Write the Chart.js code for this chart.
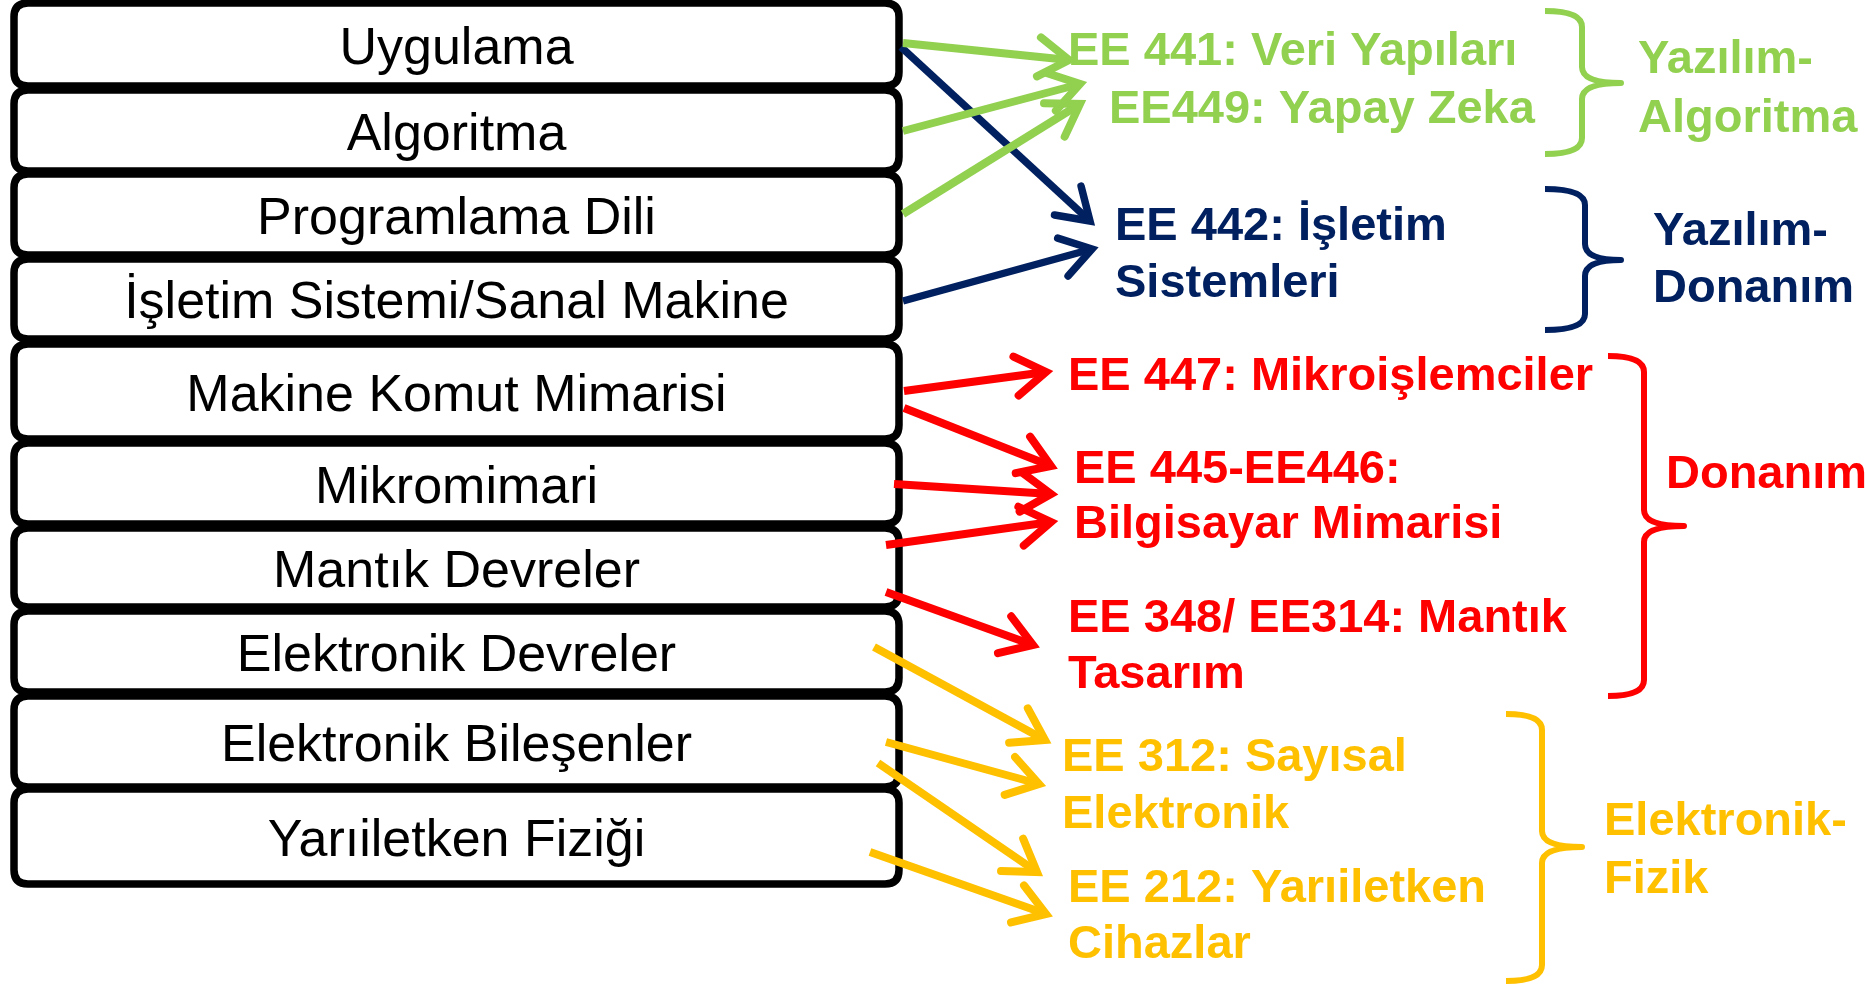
<!DOCTYPE html>
<html>
<head>
<meta charset="utf-8">
<script src="https://cdn.jsdelivr.net/npm/chart.js@4/dist/chart.umd.min.js"></script>
<style>
  html, body { margin: 0; padding: 0; background: #ffffff; }
  #wrap { width: 1875px; height: 985px; }
</style>
</head>
<body>
<div id="wrap"><canvas id="stackChart"></canvas></div>
<script>
// ------------------------------------------------------------
// Abstraction layers -> courses diagram, drawn on hidden linear
// scales (diagram units = 0..1875 x 0..985, y downwards)
// ------------------------------------------------------------

// left column: abstraction layers, top to bottom
const layerNames = [
  "Uygulama",
  "Algoritma",
  "Programlama Dili",
  "İşletim Sistemi/Sanal Makine",
  "Makine Komut Mimarisi",
  "Mikromimari",
  "Mantık Devreler",
  "Elektronik Devreler",
  "Elektronik Bileşenler",
  "Yarıiletken Fiziği",
];
const layerTop = [3, 90, 174, 259, 344, 443, 528, 611, 696, 789];
const layerBottom = [86, 171, 255, 339, 439, 524, 607, 692, 787, 884];
const layerLeft = 14;
const layerRight = 899;

// course groups
const groupKeys = ["green", "navy", "red", "gold"];
const groupTitles = [
  ["Yazılım-", "Algoritma"],
  ["Yazılım-", "Donanım"],
  ["Donanım"],
  ["Elektronik-", "Fizik"],
];
const groupTitleX = [1638, 1653, 1666, 1604];
const groupTitleY = [[73, 132], [245, 302], [488], [835, 893]];

// braces: tip x, spine x, point x, top y, middle y, bottom y
const braceTipX = [1545, 1545, 1608, 1506];
const braceSpineX = [1582, 1585, 1644, 1542];
const bracePointX = [1621, 1621, 1684, 1582];
const braceTop = [11, 189, 356, 714];
const braceMid = [83, 260, 526, 847];
const braceBottom = [154, 330, 696, 981];

// course labels (one entry per text line)
const courseLines = [
  "EE 441: Veri Yapıları", "EE449: Yapay Zeka",
  "EE 442: İşletim", "Sistemleri",
  "EE 447: Mikroişlemciler", "EE 445-EE446:", "Bilgisayar Mimarisi",
  "EE 348/ EE314: Mantık", "Tasarım",
  "EE 312: Sayısal", "Elektronik", "EE 212: Yarıiletken", "Cihazlar",
];
const courseGroup = [0, 0, 1, 1, 2, 2, 2, 2, 2, 3, 3, 3, 3];
const courseX = [1068, 1109, 1115, 1115, 1068, 1074, 1074, 1068, 1068, 1062, 1062, 1068, 1068];
const courseY = [65, 123, 240, 297, 390, 483, 538, 632, 688, 771, 828, 902, 958];

// arrows: layer -> course
const arrowFromX = [903, 903, 903, 901, 903, 904, 904, 894, 886, 886, 874, 886, 878, 870];
const arrowFromY = [43, 131, 214, 47, 301, 391, 408, 484, 545, 592, 647, 742, 763, 852];
const arrowToX = [1069, 1080, 1080, 1090, 1092, 1046, 1051, 1051, 1051, 1033, 1045, 1039, 1037, 1046];
const arrowToY = [60, 84, 104, 221, 249, 372, 466, 494, 522, 645, 740, 784, 872, 914];
const arrowGroup = [0, 0, 0, 1, 1, 2, 2, 2, 2, 2, 3, 3, 3, 3];

const COLORS = {
  green: "#92D050",
  navy: "#002060",
  red: "#FF0000",
  gold: "#FFC000",
  ink: "#000000",
};
const LINE_WIDTH = { green: 8, navy: 7.5, red: 8, gold: 8 };
const FONT_FAMILY = '"Liberation Sans", Arial, Helvetica, sans-serif';

const groupColor = (g) => COLORS[groupKeys[g]];

const buildArrowDatasets = () =>
  arrowFromX.map((x0, i) => {
    const key = groupKeys[arrowGroup[i]];
    return {
      data: [
        { x: x0, y: arrowFromY[i] },
        { x: arrowToX[i], y: arrowToY[i] },
      ],
      showLine: true,
      borderColor: COLORS[key],
      borderWidth: LINE_WIDTH[key],
      borderCapStyle: "butt",
      pointRadius: 0,
      pointHoverRadius: 0,
      clip: false,
    };
  });

const roundedRect = (ctx, x, y, w, h, r) => {
  ctx.beginPath();
  ctx.moveTo(x + r, y);
  ctx.lineTo(x + w - r, y);
  ctx.quadraticCurveTo(x + w, y, x + w, y + r);
  ctx.lineTo(x + w, y + h - r);
  ctx.quadraticCurveTo(x + w, y + h, x + w - r, y + h);
  ctx.lineTo(x + r, y + h);
  ctx.quadraticCurveTo(x, y + h, x, y + h - r);
  ctx.lineTo(x, y + r);
  ctx.quadraticCurveTo(x, y, x + r, y);
  ctx.closePath();
};

// boxes of the layer stack, under the arrows
const layerStackPlugin = {
  id: "layerStack",
  beforeDatasetsDraw(chart) {
    const { ctx, scales } = chart;
    const sx = scales.x, sy = scales.y;
    const left = sx.getPixelForValue(layerLeft);
    const right = sx.getPixelForValue(layerRight);
    const fontSize = 52;
    ctx.save();
    layerNames.forEach((name, i) => {
      const top = sy.getPixelForValue(layerTop[i]);
      const bottom = sy.getPixelForValue(layerBottom[i]);
      roundedRect(ctx, left, top, right - left, bottom - top, 14);
      ctx.fillStyle = "#ffffff";
      ctx.fill();
      ctx.lineWidth = 7.5;
      ctx.strokeStyle = COLORS.ink;
      ctx.stroke();

      ctx.fillStyle = COLORS.ink;
      ctx.font = `${fontSize}px ${FONT_FAMILY}`;
      ctx.textAlign = "center";
      ctx.textBaseline = "alphabetic";
      ctx.fillText(name, (left + right) / 2, (top + bottom) / 2 + fontSize * 0.37);
    });
    ctx.restore();
  },
};

// arrow heads, braces and right-hand text
const annotationPlugin = {
  id: "annotations",
  afterDatasetsDraw(chart) {
    const { ctx, scales } = chart;
    const sx = scales.x, sy = scales.y;
    ctx.save();

    // open chevron heads at the end of every arrow line
    chart.data.datasets.forEach((ds, i) => {
      const meta = chart.getDatasetMeta(i);
      const p0 = meta.data[0], p1 = meta.data[1];
      const ang = Math.atan2(p1.y - p0.y, p1.x - p0.x);
      const len = 36, spread = (33 * Math.PI) / 180;
      ctx.beginPath();
      ctx.moveTo(p1.x - len * Math.cos(ang - spread), p1.y - len * Math.sin(ang - spread));
      ctx.lineTo(p1.x, p1.y);
      ctx.lineTo(p1.x - len * Math.cos(ang + spread), p1.y - len * Math.sin(ang + spread));
      ctx.strokeStyle = ds.borderColor;
      ctx.lineWidth = ds.borderWidth;
      ctx.lineJoin = "miter";
      ctx.lineCap = "round";
      ctx.stroke();
    });

    // curly braces
    groupKeys.forEach((key, g) => {
      const x0 = sx.getPixelForValue(braceTipX[g]);
      const x1 = sx.getPixelForValue(braceSpineX[g]);
      const x2 = sx.getPixelForValue(bracePointX[g]);
      const yt = sy.getPixelForValue(braceTop[g]);
      const ym = sy.getPixelForValue(braceMid[g]);
      const yb = sy.getPixelForValue(braceBottom[g]);
      const r = 16;
      ctx.beginPath();
      ctx.moveTo(x0, yt);
      ctx.quadraticCurveTo(x1, yt, x1, yt + r);
      ctx.lineTo(x1, ym - r);
      ctx.quadraticCurveTo(x1, ym, x2, ym);
      ctx.quadraticCurveTo(x1, ym, x1, ym + r);
      ctx.lineTo(x1, yb - r);
      ctx.quadraticCurveTo(x1, yb, x0, yb);
      ctx.strokeStyle = COLORS[key];
      ctx.lineWidth = 6;
      ctx.lineJoin = "round";
      ctx.lineCap = "butt";
      ctx.stroke();
    });

    ctx.textAlign = "left";
    ctx.textBaseline = "alphabetic";
    ctx.font = `bold 47px ${FONT_FAMILY}`;

    // course names
    courseLines.forEach((line, i) => {
      ctx.fillStyle = groupColor(courseGroup[i]);
      ctx.fillText(line, sx.getPixelForValue(courseX[i]), sy.getPixelForValue(courseY[i]));
    });

    // group titles
    groupTitles.forEach((lines, g) => {
      ctx.fillStyle = groupColor(g);
      lines.forEach((line, k) => {
        ctx.fillText(line, sx.getPixelForValue(groupTitleX[g]), sy.getPixelForValue(groupTitleY[g][k]));
      });
    });

    ctx.restore();
  },
};

const buildChartConfig = () => ({
  type: "scatter",
  data: { datasets: buildArrowDatasets() },
  options: {
    responsive: true,
    maintainAspectRatio: false,
    animation: false,
    layout: { padding: 0 },
    events: [],
    scales: {
      x: { type: "linear", min: 0, max: 1875, display: false },
      y: { type: "linear", min: 0, max: 985, reverse: true, display: false },
    },
    plugins: {
      legend: { display: false },
      tooltip: { enabled: false },
    },
  },
  plugins: [layerStackPlugin, annotationPlugin],
});

new Chart(document.getElementById("stackChart").getContext("2d"), buildChartConfig());
</script>
</body>
</html>
